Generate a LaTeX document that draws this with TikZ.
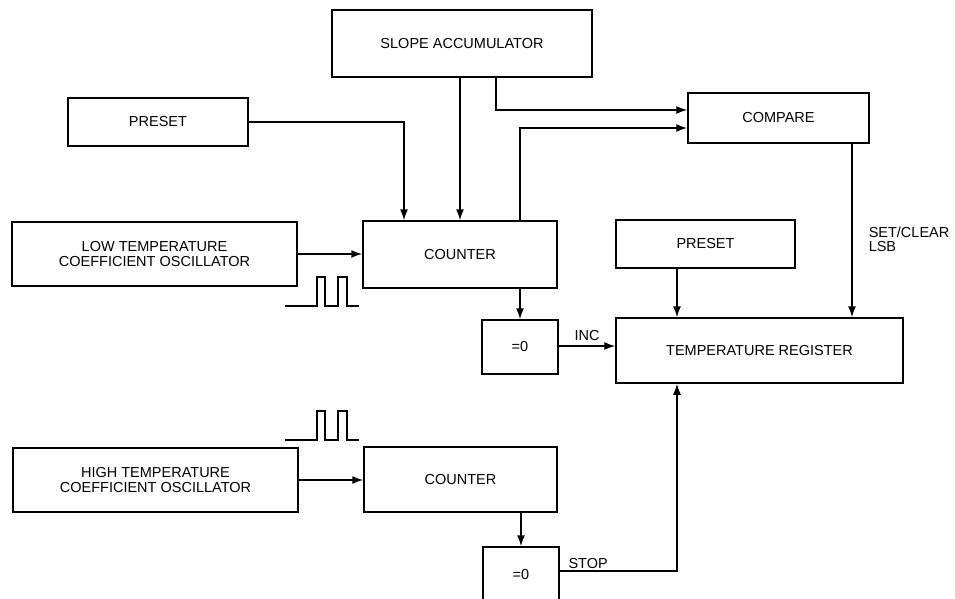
\documentclass[tikz,border=0pt]{standalone}
\usepackage{fontspec}
\setmainfont{Liberation Sans}
\usetikzlibrary{arrows.meta,positioning}

\begin{document}
\begin{tikzpicture}[
  x=1pt, y=-1pt,
  font=\fontsize{14.5}{15.5}\selectfont,
  block/.style={draw, line width=1.5pt, align=center, inner sep=0pt},
  lbl/.style={align=left, inner sep=2pt, font=\fontsize{14.5}{14.5}\selectfont},
  arrow/.style={-{Latex[length=11pt,width=8pt]}, line width=1.5pt},
  wave/.style={line width=1.5pt}
]
  \clip (0,0) rectangle (955,599);
  \fill[white] (0,0) rectangle (955,599);

  % blocks
  \node[block, minimum width=260pt, minimum height=67pt] (slope) at (462,43.5) {SLOPE ACCUMULATOR};
  \node[block, minimum width=180pt, minimum height=48pt] (preset1) at (158,122) {PRESET};
  \node[block, minimum width=181pt, minimum height=50pt] (compare) at (778.5,118) {COMPARE};
  \node[block, minimum width=285pt, minimum height=64pt] (lowosc) at (154.5,254) {LOW TEMPERATURE\\COEFFICIENT OSCILLATOR};
  \node[block, minimum width=194pt, minimum height=67pt] (counter1) at (460,254.5) {COUNTER};
  \node[block, minimum width=179pt, minimum height=48pt] (preset2) at (705.5,244) {PRESET};
  \node[block, minimum width=76pt, minimum height=54pt] (zero1) at (520,347) {=0};
  \node[block, minimum width=287pt, minimum height=65pt] (tempreg) at (759.5,350.5) {TEMPERATURE REGISTER};
  \node[block, minimum width=285pt, minimum height=64pt] (highosc) at (155.5,480) {HIGH TEMPERATURE\\COEFFICIENT OSCILLATOR};
  \node[block, minimum width=193pt, minimum height=65pt] (counter2) at (460.5,479.5) {COUNTER};
  \node[block, minimum width=76pt, minimum height=56pt] (zero2) at (521,575) {=0};

  % connectors
  \draw[arrow] (preset1.east) -| ([xshift=-56pt]counter1.north);
  \draw[arrow] (slope.south -| counter1.north) -- (counter1.north);
  \draw[arrow] ([xshift=34pt]slope.south) |- ([yshift=8pt]compare.west);
  \draw[arrow] ([xshift=60pt]counter1.north) |- ([yshift=-10pt]compare.west);
  \draw[arrow] ([xshift=73.5pt]compare.south) -- ([xshift=73.5pt]compare.south |- tempreg.north)
    node[lbl, pos=0.55, right=14pt] {SET/CLEAR\\LSB};
  \draw[arrow] ([xshift=-28.5pt]preset2.south) -- ([xshift=-28.5pt]preset2.south |- tempreg.north);
  \draw[arrow] (lowosc.east) -- (lowosc.east -| counter1.west);
  \draw[arrow] (counter1.south -| zero1.north) -- (zero1.north);
  \draw[arrow] ([yshift=1pt]zero1.east) -- ([yshift=1pt]zero1.east -| tempreg.west)
    node[lbl, midway, above=3pt] {INC};
  \draw[arrow] (highosc.east) -- (highosc.east -| counter2.west);
  \draw[arrow] (counter2.south -| zero2.north) -- (zero2.north);
  \draw[arrow] ([yshift=4pt]zero2.east) node[lbl, above right, xshift=6pt] {STOP}
    -| ([xshift=-82.5pt]tempreg.south);

  % clock pulses
  \foreach \py in {306,440} {
    \draw[wave] (285,\py) -- (317,\py) -- (317,\py-29) -- (325,\py-29) -- (325,\py)
      -- (338,\py) -- (338,\py-29) -- (347,\py-29) -- (347,\py) -- (359,\py);
  }
\end{tikzpicture}
\end{document}
